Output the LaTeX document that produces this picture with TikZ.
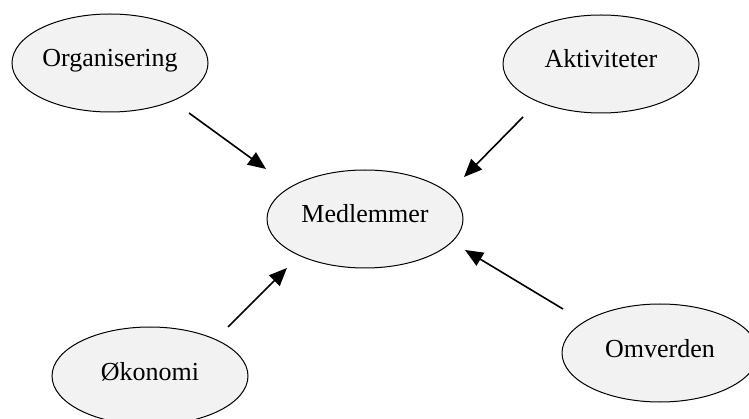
\documentclass[tikz,border=0pt]{standalone}
\usepackage{fontspec}
\setmainfont{Liberation Serif}
\usetikzlibrary{shapes.geometric,arrows.meta}
\definecolor{blobfill}{HTML}{F2F2F2}
\tikzset{
  blob/.style={ellipse, draw=black, line width=1pt, fill=blobfill,
    minimum width=196pt, minimum height=98pt, inner sep=0pt,
    text height=17pt, text depth=9pt,
    font=\fontsize{26}{30}\selectfont},
  arr/.style={line width=1.6pt, -{Triangle[length=18pt,width=15pt]}}
}
\begin{document}
\begin{tikzpicture}[x=1pt,y=-1pt]
\useasboundingbox (0,0) rectangle (749,419);
\clip (0,0) rectangle (749,419);
\node[blob] (org) at (110,63) {Organisering};
\node[blob] (akt) at (601,64) {Aktiviteter};
\node[blob] (med) at (365,219) {Medlemmer};
\node[blob] (oko) at (150,376) {Økonomi};
\node[blob] (omv) at (660,353) {Omverden};
\draw[arr] ([shift={(79,50)}]org.center) -- ([shift={(-99,-50)}]med.center);
\draw[arr] ([shift={(-78,53)}]akt.center) -- ([shift={(99,-42)}]med.center);
\draw[arr] ([shift={(78,-49)}]oko.center) -- ([shift={(-78,49)}]med.center);
\draw[arr] ([shift={(-97,-44)}]omv.center) -- ([shift={(100,31)}]med.center);
\end{tikzpicture}
\end{document}
